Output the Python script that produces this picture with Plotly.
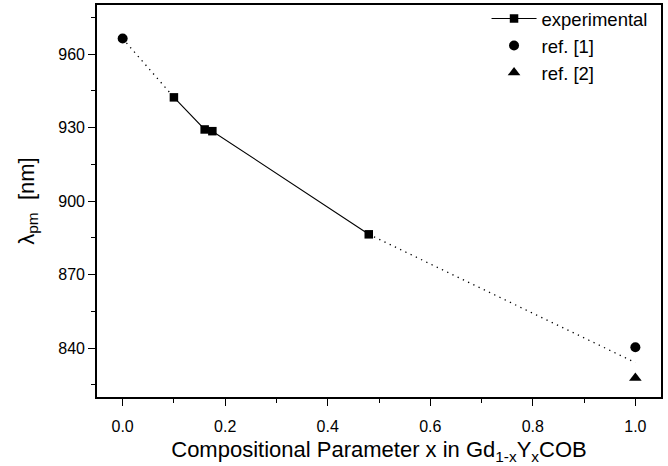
import plotly.graph_objects as go

# Data
exp_x = [0.10, 0.16, 0.175, 0.48]
exp_y = [942.3, 929.2, 928.5, 886.4]
ref1_x = [0.0, 1.0]
ref1_y = [966.3, 840.3]
ref2_x = [1.0]
ref2_y = [827.8]

# dotted guide lines: ref1 at x=0 -> first exp point; last exp point -> mean of refs at x=1
end_y = (ref1_y[1] + ref2_y[0]) / 2
guide1_x = [ref1_x[0], exp_x[0]]
guide1_y = [ref1_y[0], exp_y[0]]
guide2_x = [exp_x[-1], ref1_x[1]]
guide2_y = [exp_y[-1], end_y]

FONT = "Liberation Sans, Arial, sans-serif"
DOT = "1.3px,4.5px"

fig = go.Figure()
fig.add_trace(go.Scatter(x=guide1_x, y=guide1_y, mode="lines",
                         line=dict(color="black", width=1.3, dash=DOT),
                         showlegend=False, hoverinfo="skip"))
fig.add_trace(go.Scatter(x=guide2_x, y=guide2_y, mode="lines",
                         line=dict(color="black", width=1.3, dash=DOT),
                         showlegend=False, hoverinfo="skip"))
fig.add_trace(go.Scatter(x=exp_x, y=exp_y, mode="lines+markers", name="experimental",
                         line=dict(color="black", width=1.1),
                         marker=dict(symbol="square", size=8.5, color="black")))
fig.add_trace(go.Scatter(x=ref1_x, y=ref1_y, mode="markers", name="ref. [1]",
                         marker=dict(symbol="circle", size=10, color="black")))
fig.add_trace(go.Scatter(x=ref2_x, y=ref2_y, mode="markers", name="ref. [2]",
                         marker=dict(symbol="triangle-up", size=11, color="black")))

fig.update_layout(
    width=668, height=466,
    margin=dict(l=97, r=7, t=5, b=69, autoexpand=False),
    paper_bgcolor="white", plot_bgcolor="white",
    font=dict(family=FONT, color="black", size=16),
    legend=dict(x=0.985, y=1.013, xanchor="right", yanchor="top",
                bgcolor="rgba(0,0,0,0)", font=dict(size=18.5),
                tracegroupgap=0, itemwidth=45),
    showlegend=True,
)
fig.update_xaxes(
    range=[-0.05, 1.05], tickvals=[0, 0.2, 0.4, 0.6, 0.8, 1.0], tickformat=".1f",
    showgrid=False, zeroline=False, automargin=False,
    showline=True, linecolor="black", linewidth=1.6, mirror=True,
    ticks="outside", ticklen=7, tickwidth=1.3, tickcolor="black",
    ticklabelstandoff=7,
    minor=dict(tickvals=[0.1, 0.3, 0.5, 0.7, 0.9], ticks="outside", ticklen=4,
               tickwidth=1.1, tickcolor="black"),
    tickfont=dict(size=16),
    title=dict(text="Compositional Parameter x in Gd<sub>1-x</sub>Y<sub>x</sub>COB",
               font=dict(size=22), standoff=8),
)
fig.update_yaxes(
    range=[820, 980], tickvals=[840, 870, 900, 930, 960],
    showgrid=False, zeroline=False, automargin=False,
    showline=True, linecolor="black", linewidth=1.6, mirror=True,
    ticks="outside", ticklen=7, tickwidth=1.3, tickcolor="black",
    minor=dict(tickvals=[825, 855, 885, 915, 945, 975], ticks="outside", ticklen=4,
               tickwidth=1.1, tickcolor="black"),
    tickfont=dict(size=16),
    title=dict(text="λ<sub>pm</sub>&nbsp; [nm]", font=dict(size=22), standoff=18),
)

fig.write_html("out.html", config={"displayModeBar": False},
               post_script="document.body.style.margin='0px';document.body.style.padding='0px';")
